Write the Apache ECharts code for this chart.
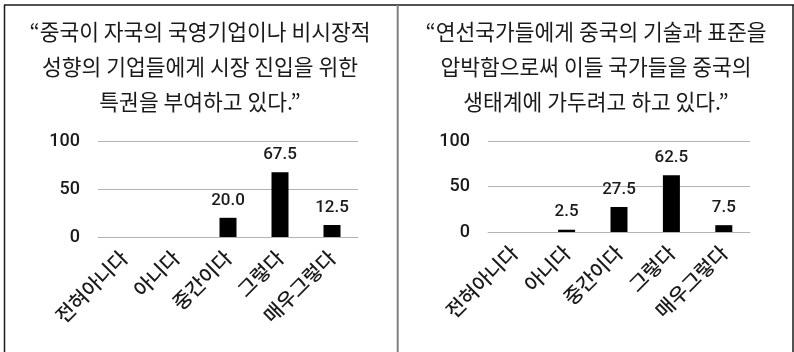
<!DOCTYPE html>
<html>
<head>
<meta charset="utf-8">
<script src="https://cdn.jsdelivr.net/npm/echarts@6/dist/echarts.min.js"></script>
<style>
  html, body { margin: 0; padding: 0; background: #fff; }
  #chart { width: 794px; height: 352px; }
</style>
</head>
<body>
<div id="chart"></div>
<script>
// Response categories (shared by both panels)
const categories = ['전혀아니다', '아니다', '중간이다', '그렇다', '매우그렇다'];

// Panel titles (statements)
const leftTitle = '“중국이 자국의 국영기업이나 비시장적\n성향의 기업들에게 시장 진입을 위한\n특권을 부여하고 있다.”';
const rightTitle = '“연선국가들에게 중국의 기술과 표준을\n압박함으로써 이들 국가들을 중국의\n생태계에 가두려고 하고 있다.”';

// Percentages per category (null = no response)
const leftValues = [null, null, 20.0, 67.5, 12.5];
const rightValues = [null, 2.5, 27.5, 62.5, 7.5];

// Y axis scale
const yMin = 0;
const yMax = 100;
const yStep = 50;

const FONT = '"Noto Sans CJK KR", "Noto Sans", sans-serif';
const NUM_FONT = 'Roboto, "Noto Sans", sans-serif';
const TEXT = '#1a1a1a';
const GRIDLINE = '#b4b4b4';

function titleOf(text, cx) {
  return {
    text: text,
    left: cx,
    top: 14,
    padding: 0,
    textAlign: 'center',
    textStyle: {
      fontFamily: FONT,
      fontSize: 21.5,
      fontWeight: 'normal',
      color: TEXT,
      lineHeight: 35
    }
  };
}

function xAxisOf(gridIndex) {
  return {
    type: 'category',
    gridIndex: gridIndex,
    data: categories,
    axisLine: { show: true, lineStyle: { color: GRIDLINE, width: 1 } },
    axisTick: { show: false },
    axisLabel: {
      rotate: 45,
      interval: 0,
      margin: 17,
      fontFamily: FONT,
      fontSize: 20,
      fontWeight: 500,
      color: TEXT
    }
  };
}

function yAxisOf(gridIndex) {
  return {
    type: 'value',
    gridIndex: gridIndex,
    min: yMin,
    max: yMax,
    interval: yStep,
    axisLine: { show: false },
    axisTick: { show: false },
    splitLine: { lineStyle: { color: GRIDLINE, width: 1 } },
    axisLabel: {
      margin: 18,
      fontFamily: NUM_FONT,
      fontSize: 18,
      fontWeight: 500,
      color: TEXT
    }
  };
}

function seriesOf(values, idx) {
  return {
    type: 'bar',
    xAxisIndex: idx,
    yAxisIndex: idx,
    data: values,
    barWidth: 17,
    itemStyle: { color: '#000' },
    label: {
      show: true,
      position: 'top',
      distance: 9,
      fontFamily: NUM_FONT,
      fontSize: 17,
      fontWeight: 500,
      color: TEXT,
      formatter: p => (p.value == null ? '' : Number(p.value).toFixed(1))
    }
  };
}

const chart = echarts.init(document.getElementById('chart'), null, { renderer: 'canvas' });

chart.setOption({
  backgroundColor: '#fff',
  animation: false,
  title: [titleOf(leftTitle, 200), titleOf(rightTitle, 596)],
  grid: [
    { left: 98, right: 436, top: 141, bottom: 352 - 237, containLabel: false },
    { left: 488, right: 44, top: 141, bottom: 352 - 232, containLabel: false }
  ],
  xAxis: [xAxisOf(0), xAxisOf(1)],
  yAxis: [yAxisOf(0), yAxisOf(1)],
  series: [seriesOf(leftValues, 0), seriesOf(rightValues, 1)],
  graphic: [
    // outer frame (open at the bottom) and panel divider
    { type: 'line', shape: { x1: 4, y1: 5, x2: 794, y2: 5 }, style: { stroke: '#1a1a1a', lineWidth: 1.5 } },
    { type: 'line', shape: { x1: 4.5, y1: 5, x2: 4.5, y2: 352 }, style: { stroke: '#1a1a1a', lineWidth: 1.5 } },
    { type: 'line', shape: { x1: 793, y1: 5, x2: 793, y2: 352 }, style: { stroke: '#1a1a1a', lineWidth: 1.5 } },
    { type: 'line', shape: { x1: 397.7, y1: 5, x2: 397.7, y2: 352 }, style: { stroke: '#808080', lineWidth: 2 } }
  ]
});
</script>
</body>
</html>
